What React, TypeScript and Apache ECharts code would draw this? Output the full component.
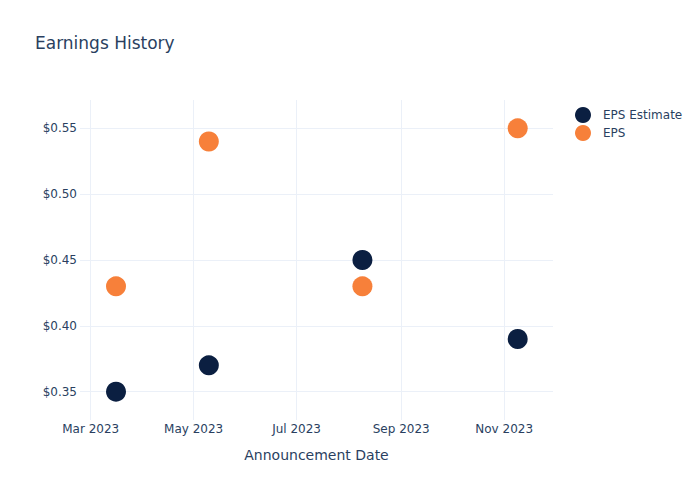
import React, { useEffect, useRef } from "react";
import * as echarts from "echarts";

const announcementDates = ["2023-03-16", "2023-05-10", "2023-08-09", "2023-11-09"];
const epsEstimate = [0.35, 0.37, 0.45, 0.39];
const epsActual = [0.43, 0.54, 0.43, 0.55];
const xTickDates = ["2023-03-01", "2023-05-01", "2023-07-01", "2023-09-01", "2023-11-01"];
const yTickValues = [0.35, 0.4, 0.45, 0.5, 0.55];
const monthNames = ["Jan", "Feb", "Mar", "Apr", "May", "Jun", "Jul", "Aug", "Sep", "Oct", "Nov", "Dec"];

const ts = (s: string) => {
  const [y, m, d] = s.split("-").map(Number);
  return Date.UTC(y, m - 1, d);
};

const FONT = "DejaVu Sans";
const TEXT = "#2a3f5f";
const GRID = "#ebf0f8";

export default function App() {
  const ref = useRef<HTMLDivElement>(null);
  useEffect(() => {
    if (!ref.current) return;
    const chart = echarts.init(ref.current, undefined, { renderer: "svg" });
    const xTicks = xTickDates.map(ts);
    chart.setOption({
      animation: false,
      textStyle: { fontFamily: FONT, color: TEXT },
      title: {
        text: "Earnings History",
        left: 30,
        top: 29,
        textStyle: { fontFamily: FONT, fontSize: 17, fontWeight: "normal", color: TEXT },
      },
      legend: {
        orient: "vertical",
        left: 570,
        top: 102,
        itemWidth: 16,
        itemHeight: 16,
        itemGap: 2,
        icon: "circle",
        textStyle: { fontFamily: FONT, fontSize: 12, color: TEXT, padding: [0, 0, 0, 7] },
        data: ["EPS Estimate", "EPS"],
      },
      grid: { left: 80, right: 147, top: 100, bottom: 80 },
      xAxis: {
        type: "value",
        min: Date.UTC(2023, 1, 22, 16),
        max: Date.UTC(2023, 10, 29, 22),
        name: "Announcement Date",
        nameLocation: "middle",
        nameGap: 28,
        nameTextStyle: { fontFamily: FONT, fontSize: 14, color: TEXT },
        axisLine: { show: false },
        axisTick: { show: false, customValues: xTicks },
        axisLabel: {
          customValues: xTicks,
          margin: 3,
          fontFamily: FONT,
          fontSize: 12,
          color: TEXT,
          hideOverlap: false,
          formatter: (v: number) => {
            const d = new Date(v);
            return monthNames[d.getUTCMonth()] + " " + d.getUTCFullYear();
          },
        },
        splitLine: { show: true, lineStyle: { color: GRID, width: 1 } },
      },
      yAxis: {
        type: "value",
        min: 0.3285,
        max: 0.5715,
        axisLine: { show: false },
        axisTick: { show: false, customValues: yTickValues },
        axisLabel: {
          customValues: yTickValues,
          margin: 3,
          fontFamily: FONT,
          fontSize: 12,
          color: TEXT,
          formatter: (v: number) => "$" + v.toFixed(2),
        },
        splitLine: { show: true, lineStyle: { color: GRID, width: 1 } },
      },
      series: [
        {
          name: "EPS Estimate",
          type: "scatter",
          symbol: "circle",
          symbolSize: 20,
          itemStyle: { color: "#0b1f41", opacity: 1 },
          data: announcementDates.map((d, i) => [ts(d), epsEstimate[i]]),
        },
        {
          name: "EPS",
          type: "scatter",
          symbol: "circle",
          symbolSize: 20,
          itemStyle: { color: "#f7803a", opacity: 1 },
          data: announcementDates.map((d, i) => [ts(d), epsActual[i]]),
        },
      ],
    });
    return () => chart.dispose();
  }, []);
  return <div ref={ref} style={{ width: 700, height: 500, margin: -8 }} />;
}
